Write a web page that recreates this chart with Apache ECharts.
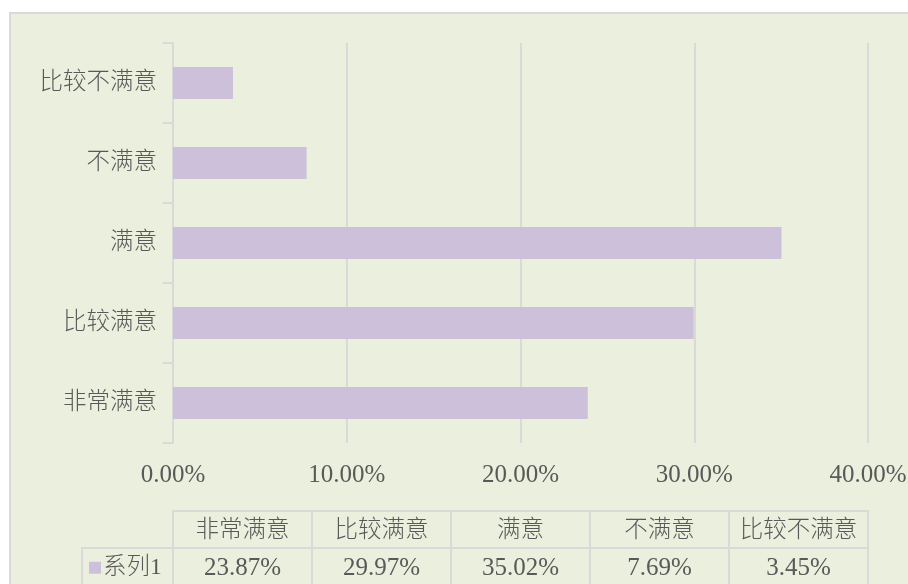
<!DOCTYPE html>
<html>
<head>
<meta charset="utf-8">
<script src="https://cdn.jsdelivr.net/npm/echarts@6/dist/echarts.min.js"></script>
<style>
  html, body { margin: 0; padding: 0; background: #fff; overflow: hidden; }
  #bg {
    position: absolute; left: 9px; top: 12px; width: 920px; height: 600px;
    background: #ebefde; border-top: 2px solid #d9d9d9; border-left: 2px solid #d9d9d9;
  }
  #chart { position: absolute; left: 0; top: 0; width: 908px; height: 584px; }
</style>
</head>
<body>
<div id="bg"></div>
<div id="chart"></div>
<script>
// categories bottom -> top on the y axis
const categories = ["非常满意", "比较满意", "满意", "不满意", "比较不满意"];
const values = [23.87, 29.97, 35.02, 7.69, 3.45];
const xTicks = [0, 10, 20, 30, 40];
const seriesName = "系列1";

const cjkFont = "'Liberation Serif', 'Noto Sans CJK SC Light', 'Noto Sans CJK SC DemiLight', 'Noto Sans CJK SC', sans-serif";
const numFont = "'Liberation Serif', serif";
const textColor = "#595959";
const lineColor = "#d9d9d9";
const barColor = "#ccc0da";
const pct = v => v.toFixed(2) + "%";

const chart = echarts.init(document.getElementById("chart"));

chart.setOption({
  animation: false,
  textStyle: { fontFamily: cjkFont, color: textColor },
  legend: {
    show: true,
    left: 89,
    top: 556,
    icon: "rect",
    itemWidth: 12,
    itemHeight: 12,
    padding: 0,
    textStyle: { fontSize: 23.5, color: textColor, fontFamily: cjkFont, fontWeight: 300, padding: [0, 0, 0, -3] },
    data: [seriesName]
  },
  grid: [
    { left: 173, right: 40, top: 43, bottom: 141, outerBoundsMode: "none" },
    { left: 173, right: 40, top: 511, height: 37, outerBoundsMode: "none" },
    { left: 173, right: 40, top: 548, height: 36, outerBoundsMode: "none" }
  ],
  xAxis: [
    {
      type: "value",
      gridIndex: 0,
      min: xTicks[0],
      max: xTicks[xTicks.length - 1],
      interval: xTicks[1] - xTicks[0],
      axisLine: { show: false },
      axisTick: { show: false },
      splitLine: { show: true, lineStyle: { color: lineColor, width: 2 } },
      axisLabel: { formatter: pct, fontSize: 25, margin: 20, color: textColor, fontFamily: numFont }
    },
    {
      type: "category",
      gridIndex: 1,
      position: "top",
      data: categories,
      axisLine: { show: true, onZero: false, lineStyle: { color: lineColor, width: 2 } },
      axisTick: { show: true, interval: 0, inside: true, length: 37, lineStyle: { color: lineColor, width: 2 } },
      axisLabel: { interval: 0, inside: true, margin: 20, verticalAlign: "middle", fontSize: 23.5, fontWeight: 300, color: textColor }
    },
    {
      type: "category",
      gridIndex: 2,
      position: "top",
      data: values.map(pct),
      axisLine: { show: true, onZero: false, lineStyle: { color: lineColor, width: 2 } },
      axisTick: { show: true, interval: 0, inside: true, length: 40, lineStyle: { color: lineColor, width: 2 } },
      axisLabel: { interval: 0, inside: true, margin: 20, verticalAlign: "middle", fontSize: 25, color: textColor, fontFamily: numFont }
    }
  ],
  yAxis: [
    {
      type: "category",
      gridIndex: 0,
      data: categories,
      axisLine: { show: true, lineStyle: { color: lineColor, width: 2 } },
      axisTick: { show: true, length: 10, lineStyle: { color: lineColor, width: 2 } },
      axisLabel: { margin: 16, fontSize: 23.5, fontWeight: 300, color: textColor }
    },
    { type: "value", gridIndex: 1, show: false },
    { type: "value", gridIndex: 2, show: false }
  ],
  graphic: [
    {
      type: "polyline",
      shape: { points: [[82, 590], [82, 548], [173, 548]] },
      style: { stroke: lineColor, lineWidth: 2, fill: null }
    }
  ],
  series: [
    {
      name: seriesName,
      type: "bar",
      xAxisIndex: 0,
      yAxisIndex: 0,
      data: values,
      barCategoryGap: "60%",
      itemStyle: { color: barColor }
    }
  ]
});
</script>
</body>
</html>
